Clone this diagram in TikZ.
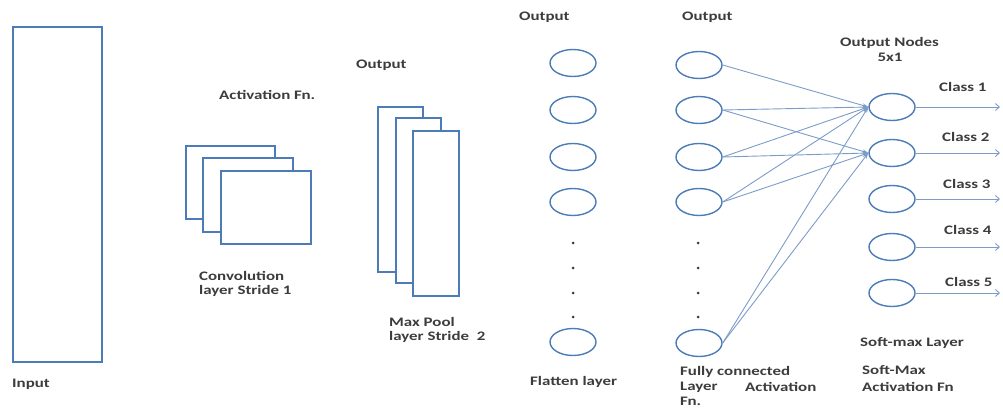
\documentclass[tikz,border=0pt]{standalone}
\usepackage{fontspec}
\setmainfont{Carlito}[FakeStretch=1.3]
\usetikzlibrary{shapes.geometric,arrows.meta}
\definecolor{shapeblue}{HTML}{4C7CB8}
\definecolor{linkblue}{HTML}{7C9CC8}
\definecolor{txtgray}{HTML}{3C3C3C}
\tikzset{
  lbl/.style={font=\fontsize{13}{15}\selectfont\bfseries, text=txtgray, inner sep=0pt, anchor=west},
  layerbox/.style={draw=shapeblue, line width=1.4pt, fill=white, inner sep=0pt},
  neuron/.style={ellipse, draw=shapeblue, line width=1.4pt, fill=white, inner sep=0pt, minimum width=46pt, minimum height=27pt},
  dotmark/.style={circle, fill=txtgray, inner sep=0pt, minimum size=3pt},
  link/.style={draw=linkblue, line width=0.9pt, -{Stealth[length=6pt,width=4pt]}},
  classarrow/.style={draw=linkblue, line width=0.9pt, -{Straight Barb[length=4pt,width=7pt]}}
}
\begin{document}
\begin{tikzpicture}[x=1pt,y=-1pt]
\useasboundingbox (0,0) rectangle (1003,409);
% Input
\node[layerbox, minimum width=89pt, minimum height=335pt] (inp) at (57.5,194.5) {};
\node[lbl] (inplbl) at (12,384) {Input};
% Convolution stack
\node[layerbox, minimum width=89pt, minimum height=73pt] (c1) at (230.5,182.5) {};
\node[layerbox, minimum width=90pt, minimum height=74pt] (c2) at (248,195) {};
\node[layerbox, minimum width=90pt, minimum height=73pt] (c3) at (266,207.5) {};
\node[lbl] (actlbl) at (219,95) {Activation Fn.};
\node[lbl] (convlbl1) at (199,276) {Convolution};
\node[lbl] (convlbl2) at (199,291) {layer Stride 1};
% Max pool stack
\node[layerbox, minimum width=45pt, minimum height=165pt] (m1) at (400.5,189.5) {};
\node[layerbox, minimum width=45pt, minimum height=165pt] (m2) at (418.5,200.5) {};
\node[layerbox, minimum width=46pt, minimum height=165pt] (m3) at (436,213.5) {};
\node[lbl] (outlbl1) at (356,65) {Output};
\node[lbl] (mplbl1) at (389,322) {Max Pool};
\node[lbl] (mplbl2) at (389,337) {layer Stride\ \ 2};
% Flatten layer
\node[neuron] (f1) at (573,63) {};
\node[neuron] (f2) at (573,110) {};
\node[neuron] (f3) at (573,157) {};
\node[neuron] (f4) at (573,202) {};
\node[dotmark] (fd1) at (573,243) {};
\node[dotmark] (fd2) at (573,268) {};
\node[dotmark] (fd3) at (573,293) {};
\node[dotmark] (fd4) at (573,317) {};
\node[neuron] (f5) at (573,342) {};
\node[lbl] (outlbl2) at (519,17) {Output};
\node[lbl] (flatlbl) at (530,382) {Flatten layer};
% Fully connected layer
\node[neuron] (h1) at (699,65) {};
\node[neuron] (h2) at (699,110) {};
\node[neuron] (h3) at (699,157) {};
\node[neuron] (h4) at (699,202) {};
\node[dotmark] (hd1) at (698,243) {};
\node[dotmark] (hd2) at (698,268) {};
\node[dotmark] (hd3) at (698,293) {};
\node[dotmark] (hd4) at (698,317) {};
\node[neuron] (h5) at (699,343) {};
\node[lbl] (outlbl3) at (682,17) {Output};
\node[lbl] (fclbl1) at (680,372) {Fully connected};
\node[lbl] (fclbl2) at (680,387) {Layer};
\node[lbl] (fclbl3) at (745,387) {Activation};
\node[lbl] (fclbl4) at (680,401) {Fn.};
% Soft-max layer
\node[neuron] (s1) at (892,107) {};
\node[neuron] (s2) at (892,153) {};
\node[neuron] (s3) at (892,199) {};
\node[neuron] (s4) at (892,247) {};
\node[neuron] (s5) at (892,293) {};
\node[lbl] (onlbl1) at (840,43) {Output Nodes};
\node[lbl, anchor=center] (onlbl2) at (890,57) {5x1};
\node[lbl] (smlbl1) at (860,343) {Soft-max Layer};
\node[lbl] (smlbl2) at (862,370) {Soft-Max};
\node[lbl] (smlbl3) at (862,387) {Activation Fn};
% class outputs
\coordinate (e1) at (1000,107);
\coordinate (e2) at (1000,153);
\coordinate (e3) at (1000,199);
\coordinate (e4) at (1000,247);
\coordinate (e5) at (1000,293);
\draw[classarrow] (s1.east) -- (e1);
\draw[classarrow] (s2.east) -- (e2);
\draw[classarrow] (s3.east) -- (e3);
\draw[classarrow] (s4.east) -- (e4);
\draw[classarrow] (s5.east) -- (e5);
\node[lbl] (cl1) at (939,87) {Class 1};
\node[lbl] (cl2) at (942,137) {Class 2};
\node[lbl] (cl3) at (943,184) {Class 3};
\node[lbl] (cl4) at (944,230) {Class 4};
\node[lbl] (cl5) at (945,282) {Class 5};
% connections
\draw[link] (h1.east) -- (s1.west);
\draw[link] (h2.east) -- (s1.west);
\draw[link] (h2.east) -- (s2.west);
\draw[link] (h3.east) -- (s1.west);
\draw[link] (h3.east) -- (s2.west);
\draw[link] (h4.east) -- (s1.west);
\draw[link] (h4.east) -- (s2.west);
\draw[link] (h5.east) -- (s1.west);
\draw[link] (h5.east) -- (s2.west);
\end{tikzpicture}
\end{document}
